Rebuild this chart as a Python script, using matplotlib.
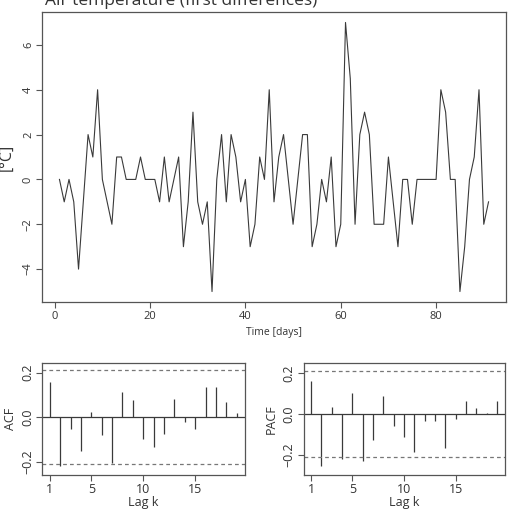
import matplotlib
matplotlib.use("Agg")
import matplotlib.pyplot as plt
import numpy as np

plt.rcParams["font.family"] = ["Open Sans", "DejaVu Sans"]

# daily first differences of air temperature
days = np.arange(1, 92)
temp_diff = [0, -1, 0, -1, -4, -1, 2, 1, 4, 0,
             -1, -2, 1, 1, 0, 0, 0, 1, 0, 0,
             0, -1, 1, -1, 0, 1, -3, -1, 3, -1,
             -2, -1, -5, 0, 2, -1, 2, 1, -1, 0,
             -3, -2, 1, 0, 4, -1, 1, 2, 0, -2,
             0, 2, 2, -3, -2, 0, -1, 1, -3, -2,
             7, 4.5, -2, 2, 3, 2, -2, -2, -2, 1,
             -1, -3, 0, 0, -2, 0, 0, 0, 0, 0,
             4, 3, 0, 0, -5, -3, 0, 1, 4, -2,
             -1]

lags = np.arange(1, 20)
acf_vals = [0.160, -0.218, -0.054, -0.152, 0.022, -0.079, -0.206, 0.115, 0.078, -0.099,
            -0.131, -0.076, 0.082, -0.022, -0.054, 0.134, 0.134, 0.067, 0.018]
pacf_vals = [0.160, -0.253, 0.034, -0.221, 0.103, -0.227, -0.127, 0.089, -0.060, -0.111,
             -0.184, -0.034, -0.034, -0.168, -0.024, 0.063, 0.027, 0.003, 0.061]
ci = 2 / np.sqrt(len(temp_diff))

W, H = 518, 513
fig = plt.figure(figsize=(W / 100, H / 100), dpi=100)

frame_col = "#555555"
line_col = "#3a3a3a"


def style(ax, size=8):
    for s in ax.spines.values():
        s.set_color(frame_col)
        s.set_linewidth(0.9)
    ax.tick_params(direction="out", length=4, width=0.8, color=frame_col,
                   labelsize=size, labelcolor="#333333", pad=2)
    for lab in ax.get_yticklabels():
        lab.set_rotation(90)
        lab.set_va("center")


def box(l, t, r, b):
    return fig.add_axes([l / W, 1 - b / H, (r - l) / W, (b - t) / H])


# main series
ax = box(42.3, 11.7, 505.7, 302.3)
ax.plot(days, temp_diff, color=line_col, lw=0.8)
ax.set_xlim(-2.6, 94.6)
ax.set_ylim(-5.48, 7.48)
ax.set_xticks([0, 20, 40, 60, 80])
ax.set_yticks([-4, -2, 0, 2, 4, 6])
style(ax)
ax.set_xlabel("Time [days]", fontsize=7.5, color="#333333", labelpad=4)
ax.set_ylabel("[°C]", fontsize=11.5, color="#333333", labelpad=6)
fig.text(45 / W, 1 - 5 / H, "Air temperature (first differences)",
         fontsize=12.5, color="#333333", va="baseline", ha="left")


def corr_panel(l, r, vals, ylim, name):
    a = box(l, 362.5, r, 475)
    a.vlines(lags, 0, vals, color=line_col, lw=0.9)
    a.axhline(0, color=line_col, lw=0.9)
    for c in (ci, -ci):
        a.axhline(c, color="#777777", lw=0.9, ls=(0, (3, 2.5)))
    a.set_xlim(0.28, 19.8)
    a.set_ylim(*ylim)
    a.set_xticks([1, 5, 10, 15])
    a.set_yticks([-0.2, 0.0, 0.2])
    a.set_yticklabels(["\u22120.2", "0.0", "0.2"])
    style(a, size=9)
    a.set_xlabel("Lag k", fontsize=9, color="#333333", labelpad=0)
    a.set_ylabel(name, fontsize=9, color="#333333", labelpad=3)
    return a


corr_panel(42.3, 245, acf_vals, (-0.258, 0.245), "ACF")
corr_panel(303.7, 505.3, pacf_vals, (-0.297, 0.25), "PACF")

fig.savefig("out.png", dpi=100)
